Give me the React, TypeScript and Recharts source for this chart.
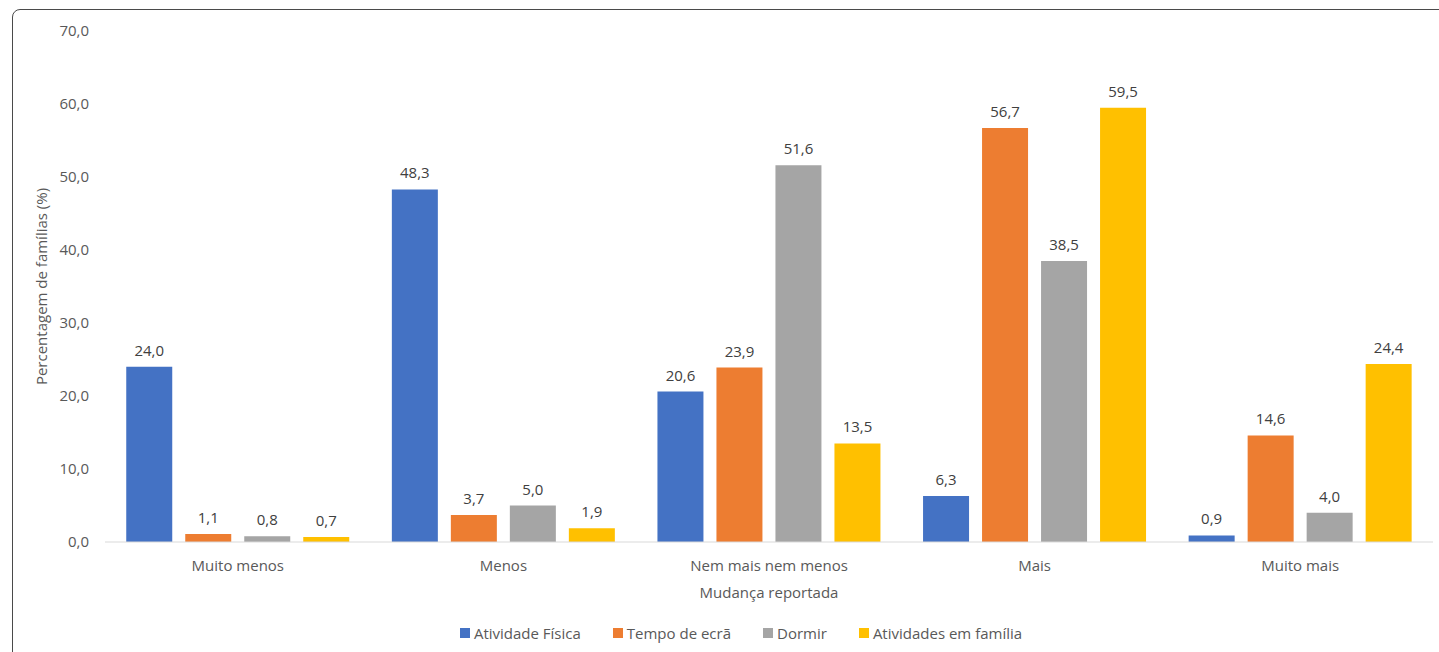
import React from "react";
import { BarChart, Bar, XAxis, YAxis, Legend, LabelList } from "recharts";

const categories = ["Muito menos", "Menos", "Nem mais nem menos", "Mais", "Muito mais"];
const atividadeFisica = [24.0, 48.3, 20.6, 6.3, 0.9];
const tempoEcra = [1.1, 3.7, 23.9, 56.7, 14.6];
const dormir = [0.8, 5.0, 51.6, 38.5, 4.0];
const atividadesFamilia = [0.7, 1.9, 13.5, 59.5, 24.4];
const yTicks = [0, 10, 20, 30, 40, 50, 60, 70];

const series = [
  { key: "fisica", name: "Atividade Física", color: "#4472C4" },
  { key: "ecra", name: "Tempo de ecrã", color: "#ED7D31" },
  { key: "dormir", name: "Dormir", color: "#A5A5A5" },
  { key: "familia", name: "Atividades em família", color: "#FFC000" },
];

const data = categories.map((cat, i) => ({
  cat,
  fisica: atividadeFisica[i],
  ecra: tempoEcra[i],
  dormir: dormir[i],
  familia: atividadesFamilia[i],
}));

const FONT = "'Open Sans', sans-serif";
const fmt = (v: number) => Number(v).toFixed(1).replace(".", ",");

const LegendContent = () => (
  <div
    style={{
      display: "flex",
      justifyContent: "center",
      alignItems: "center",
      gap: 32,
      height: 22,
      paddingLeft: 4,
      fontFamily: FONT,
      fontSize: 15,
      color: "#595959",
    }}
  >
    {series.map((s) => (
      <div key={s.key} style={{ display: "flex", alignItems: "center" }}>
        <span style={{ width: 10, height: 10, background: s.color, marginRight: 4, display: "inline-block" }} />
        {s.name}
      </div>
    ))}
  </div>
);

export default function App() {
  return (
    <div style={{ position: "absolute", left: 0, top: 0, width: 1439, height: 652, background: "#fff", overflow: "hidden" }}>
      <div
        style={{
          position: "absolute",
          left: 12,
          top: 9,
          width: 1450,
          height: 680,
          border: "1.5px solid #4a4a4a",
          borderRadius: 8,
          boxSizing: "border-box",
        }}
      />
      <div style={{ position: "absolute", left: 0, top: 0 }}>
        <BarChart
          width={1439}
          height={652}
          data={data}
          margin={{ top: 31, right: 6, left: 45, bottom: 8 }}
          barCategoryGap="8%"
          barGap={13}
        >
          <XAxis
            dataKey="cat"
            height={80}
            tickLine={false}
            tickMargin={12}
            axisLine={{ stroke: "#D9D9D9" }}
            tick={{ fill: "#595959", fontSize: 15, fontFamily: FONT }}
            interval={0}
            label={{
              value: "Mudança reportada",
              position: "insideBottom",
              offset: 24,
              style: { fill: "#595959", fontSize: 15, fontFamily: FONT },
            }}
          />
          <YAxis
            width={60}
            domain={[0, 70]}
            ticks={yTicks}
            tickFormatter={fmt}
            tickLine={false}
            axisLine={false}
            tickMargin={10}
            tick={{ fill: "#595959", fontSize: 15, fontFamily: FONT }}
            label={{
              value: "Percentagem de famílias (%)",
              angle: -90,
              position: "insideLeft",
              offset: -3,
              style: { fill: "#595959", fontSize: 15, fontFamily: FONT, textAnchor: "middle" },
            }}
          />
          <Legend verticalAlign="bottom" content={<LegendContent />} />
          {series.map((s) => (
            <Bar key={s.key} dataKey={s.key} name={s.name} fill={s.color} isAnimationActive={false}>
              <LabelList
                dataKey={s.key}
                position="top"
                offset={11}
                formatter={(v: any) => fmt(v)}
                style={{ fill: "#404040", fontSize: 15, fontFamily: FONT }}
              />
            </Bar>
          ))}
        </BarChart>
      </div>
    </div>
  );
}
